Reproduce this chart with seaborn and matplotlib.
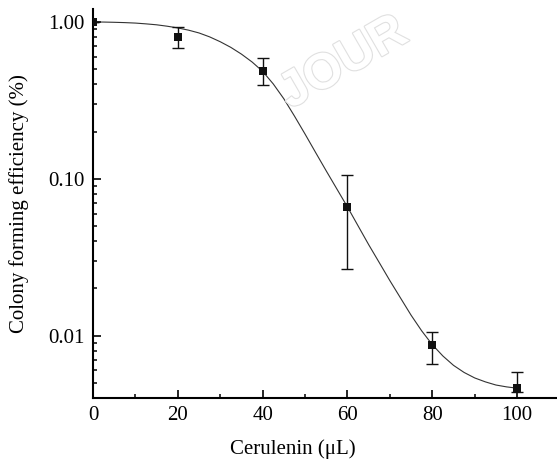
import matplotlib
matplotlib.use("Agg")
import matplotlib.pyplot as plt
import matplotlib.ticker as mticker
import matplotlib.patheffects as pe
import seaborn as sns
import pandas as pd
import numpy as np

# Measured points
dose = [0, 20, 40, 60, 80, 100]
efficiency = [1.00, 0.80, 0.486, 0.0658, 0.00875, 0.00466]
err_upper = [1.00, 0.925, 0.589, 0.105, 0.0106, 0.00589]
err_lower = [1.00, 0.679, 0.396, 0.0264, 0.00662, 0.0044]

# Fitted curve
curve_x = [0, 2.5, 5, 7.5, 10, 12.5, 15, 17.5, 20, 22.5, 25, 27.5, 30, 32.5, 35,
           37.5, 40, 42.5, 45, 47.5, 50, 52.5, 55, 57.5, 60, 62.5, 65, 67.5, 70,
           72.5, 75, 77.5, 80, 82.5, 85, 87.5, 90, 92.5, 95, 97.5, 100]
curve_y = [1.000, 0.9989, 0.9954, 0.9908, 0.9840, 0.9727, 0.9594, 0.9397, 0.9162,
           0.8872, 0.8511, 0.8035, 0.7482, 0.6887, 0.6237, 0.5559, 0.4842, 0.4027,
           0.3236, 0.2512, 0.1928, 0.1469, 0.1122, 0.0861, 0.0661, 0.0501, 0.0380,
           0.0292, 0.0224, 0.01738, 0.01349, 0.01072, 0.00875, 0.00741, 0.00646,
           0.00582, 0.00537, 0.00507, 0.00484, 0.00471, 0.00462]

ytick_vals = [0.01, 0.1, 1.0]
ytick_labels = ["0.01", "0.10", "1.00"]
xtick_vals = [0, 20, 40, 60, 80, 100]

sns.set_theme(style="ticks")
plt.rcParams["font.family"] = ["Liberation Serif", "DejaVu Serif"]

fig = plt.figure(figsize=(5.57, 4.63), dpi=100)
W, H = 557, 463
ax = fig.add_axes([93 / W, 1 - 398 / H, (557 - 93) / W, (398 - 9) / H])

df_curve = pd.DataFrame({"x": curve_x, "y": curve_y})
df_pts = pd.DataFrame({"x": dose, "y": efficiency})

sns.lineplot(data=df_curve, x="x", y="y", ax=ax, color="#333333", lw=0.8, sort=False)

yerr = np.array([np.array(efficiency) - np.array(err_lower),
                 np.array(err_upper) - np.array(efficiency)])
ax.errorbar(dose, efficiency, yerr=yerr, fmt="none", ecolor="#111111",
            elinewidth=1.0, capsize=4, capthick=1.0, zorder=3)
sns.scatterplot(data=df_pts, x="x", y="y", ax=ax, marker="s", s=38,
                color="#111111", edgecolor="#111111", linewidth=0, zorder=4)

ax.set_yscale("log")
ax.set_xlim(0, 109.4)
ax.set_ylim(0.0040, 1.21)

ax.set_yticks(ytick_vals)
ax.set_yticklabels(ytick_labels)
ax.yaxis.set_minor_locator(mticker.LogLocator(base=10, subs=np.arange(2, 10)))
ax.yaxis.set_minor_formatter(mticker.NullFormatter())
ax.set_xticks(xtick_vals)
ax.set_xticklabels([str(v) for v in xtick_vals])
ax.xaxis.set_minor_locator(mticker.MultipleLocator(10))

for s in ["top", "right"]:
    ax.spines[s].set_visible(False)
for s in ["left", "bottom"]:
    ax.spines[s].set_linewidth(1.5)
    ax.spines[s].set_color("black")

ax.tick_params(axis="both", which="major", direction="in", length=5.5, width=1.2,
               colors="black", labelsize=15, pad=6)
ax.tick_params(axis="both", which="minor", direction="in", length=3, width=1.1,
               colors="black")

ax.set_xlabel("Cerulenin (μL)", fontsize=15, color="black")
ax.set_ylabel("Colony forming efficiency (%)", fontsize=15, color="black")
ax.xaxis.set_label_coords(0.431, -0.105)
ax.yaxis.set_label_coords(-0.138, 0.5)

# faint watermark
wm = fig.text(272 / W, 1 - 108 / H, "JOUR", rotation=30, fontsize=36,
              fontweight="bold", family=["Liberation Sans", "DejaVu Sans"],
              color="white", ha="left", va="baseline", zorder=0)
wm.set_path_effects([pe.Stroke(linewidth=1.6, foreground="#e0e0e0"), pe.Normal()])

fig.savefig("out.png", dpi=100)
